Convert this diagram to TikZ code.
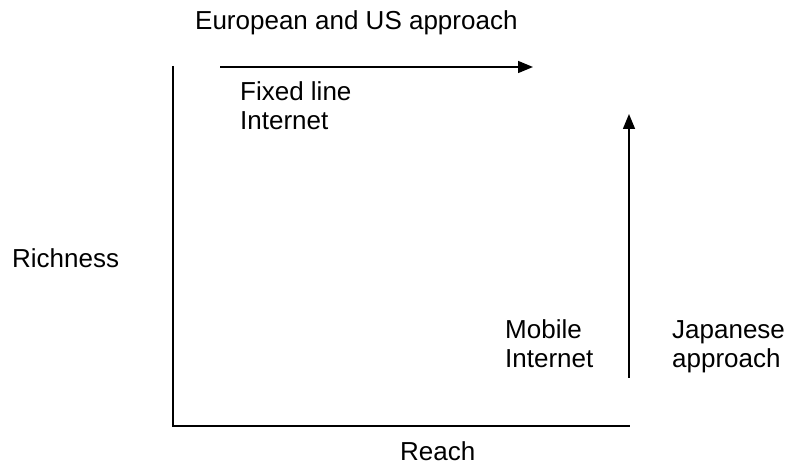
\documentclass[tikz,border=0pt]{standalone}
\usepackage{fontspec}
\setmainfont{Liberation Sans}
\usetikzlibrary{arrows.meta}
\begin{document}
\begin{tikzpicture}[x=1pt,y=-1pt,
  lbl/.style={inner sep=0pt,anchor=base west,align=left,
    font=\fontsize{26}{29}\selectfont},
  axisline/.style={line width=1.5pt},
  trend/.style={line width=1.5pt,-{Triangle[length=15pt,width=12pt]}}]
\useasboundingbox (0,0) rectangle (788,465);

% axes
\coordinate (ytop) at (173,66);
\coordinate (origin) at (173,426);
\coordinate (xend) at (630,426);
\draw[axisline] (ytop) -- (origin) -- (xend);

% arrows for the two approaches
\coordinate (eus0) at (220,67);
\coordinate (eus1) at (533,67);
\draw[trend] (eus0) -- (eus1);
\coordinate (jp0) at (629,378);
\coordinate (jp1) at (629,114);
\draw[trend] (jp0) -- (jp1);

% labels (base anchor of a two-line node sits on its last line)
\node[lbl] (title) at (195,30) {European and US approach};
\node[lbl] (fixed) at (240,130) {Fixed line\\Internet};
\node[lbl] (rich) at (12,268) {Richness};
\node[lbl] (mobile) at (505,368) {Mobile\\Internet};
\node[lbl] (japan) at (672,368) {Japanese\\approach};
\node[lbl] (reach) at (400,460) {Reach};
\end{tikzpicture}
\end{document}
